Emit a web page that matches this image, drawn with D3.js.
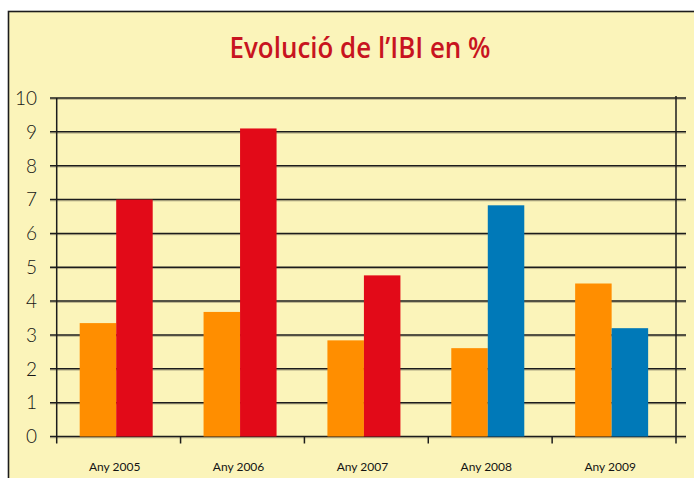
<!DOCTYPE html>
<html>
<head>
<meta charset="utf-8">
<script src="https://cdn.jsdelivr.net/npm/d3@7"></script>
<style>
	body { margin: 0; background: #fff; }
	svg { display: block; }
</style>
</head>
<body>
<div id="canvas"></div>
<script>
// Data
const years = ['Any 2005', 'Any 2006', 'Any 2007', 'Any 2008', 'Any 2009']
const seriesNames = ['a', 'b']
const valuesA = [3.35, 3.68, 2.84, 2.61, 4.52]
const valuesB = [7.0, 9.1, 4.76, 6.83, 3.2]
const yTicks = [0, 1, 2, 3, 4, 5, 6, 7, 8, 9, 10]
const title = 'Evolució de l’IBI en %'

const colors = {
	bg: '#fbf4ba',
	line: '#1c1c1c',
	shadow: '#b9b18a',
	text: '#141414',
	title: '#c8141f',
	orange: '#ff8e00',
	red: '#e20a18',
	blue: '#0079b8',
}
// second bar colour per year
const colorB = d3.scaleOrdinal().domain(years).range([colors.red, colors.red, colors.red, colors.blue, colors.blue])

const width = 694, height = 478
const plot = {left: 56.7, right: 676, top: 98, bottom: 436.5}

const svg = d3.select('#canvas').append('svg').attr('width', width).attr('height', height)

// frame
svg.append('rect')
	.attr('x', 8.5).attr('y', 11.5)
	.attr('width', width + 20).attr('height', height + 20)
	.attr('fill', colors.bg)
	.attr('stroke', colors.line)
	.attr('stroke-width', 1.6)

svg.append('text')
	.attr('x', 360).attr('y', 58)
	.attr('text-anchor', 'middle')
	.attr('font-family', '"Open Sans", sans-serif')
	.attr('font-weight', 600)
	.attr('font-size', 29)
	.attr('fill', colors.title)
	.attr('textLength', 261)
	.attr('lengthAdjust', 'spacingAndGlyphs')
	.text(title)

// Scales
const x0 = d3.scaleBand().domain(years).range([plot.left, plot.right])
const x1 = d3.scaleBand().domain(seriesNames).range([23, 96])
const y = d3.scaleLinear().domain([0, 10]).range([plot.bottom, plot.top])

// gridlines
const grid = svg.append('g')
grid.selectAll('.shadow').data(yTicks).enter()
	.append('line')
	.attr('x1', 50).attr('x2', 686)
	.attr('y1', d => y(d) + 1.3).attr('y2', d => y(d) + 1.3)
	.attr('stroke', colors.shadow).attr('stroke-width', 1)
grid.selectAll('.grid').data(yTicks).enter()
	.append('line')
	.attr('x1', 50).attr('x2', 686)
	.attr('y1', d => y(d)).attr('y2', d => y(d))
	.attr('stroke', colors.line).attr('stroke-width', 1.5)

// bars
const groups = svg.selectAll('.year').data(years).enter()
	.append('g')
	.attr('transform', d => `translate(${x0(d)},0)`)

groups.append('rect')
	.attr('x', x1('a')).attr('width', x1.bandwidth())
	.attr('y', (d, i) => y(valuesA[i]))
	.attr('height', (d, i) => y(0) - y(valuesA[i]))
	.attr('fill', colors.orange)

groups.append('rect')
	.attr('x', x1('b')).attr('width', x1.bandwidth())
	.attr('y', (d, i) => y(valuesB[i]))
	.attr('height', (d, i) => y(0) - y(valuesB[i]))
	.attr('fill', d => colorB(d))

// axes
const axisG = svg.append('g').attr('stroke', colors.line).attr('stroke-width', 1.5)
axisG.append('line')
	.attr('x1', plot.left).attr('x2', plot.left)
	.attr('y1', plot.top).attr('y2', plot.bottom + 7)
axisG.append('line')
	.attr('x1', plot.right).attr('x2', plot.right)
	.attr('y1', plot.top - 2).attr('y2', plot.bottom + 7)
axisG.selectAll('.xtick').data(years.slice(1)).enter()
	.append('line')
	.attr('x1', d => x0(d)).attr('x2', d => x0(d))
	.attr('y1', plot.bottom).attr('y2', plot.bottom + 7)

svg.append('g').selectAll('text').data(yTicks).enter()
	.append('text')
	.attr('x', 37).attr('y', d => y(d))
	.attr('dy', '0.36em')
	.attr('text-anchor', 'end')
	.attr('font-family', 'Lato, "Open Sans", sans-serif')
	.attr('font-weight', 300)
	.attr('font-size', 19)
	.attr('fill', colors.text)
	.text(d => d)

svg.append('g').selectAll('text').data(years).enter()
	.append('text')
	.attr('x', d => x0(d) + 58)
	.attr('y', 471)
	.attr('text-anchor', 'middle')
	.attr('font-family', 'Lato, "Open Sans", sans-serif')
	.attr('font-size', 12)
	.attr('fill', colors.text)
	.text(d => d)
</script>
</body>
</html>
